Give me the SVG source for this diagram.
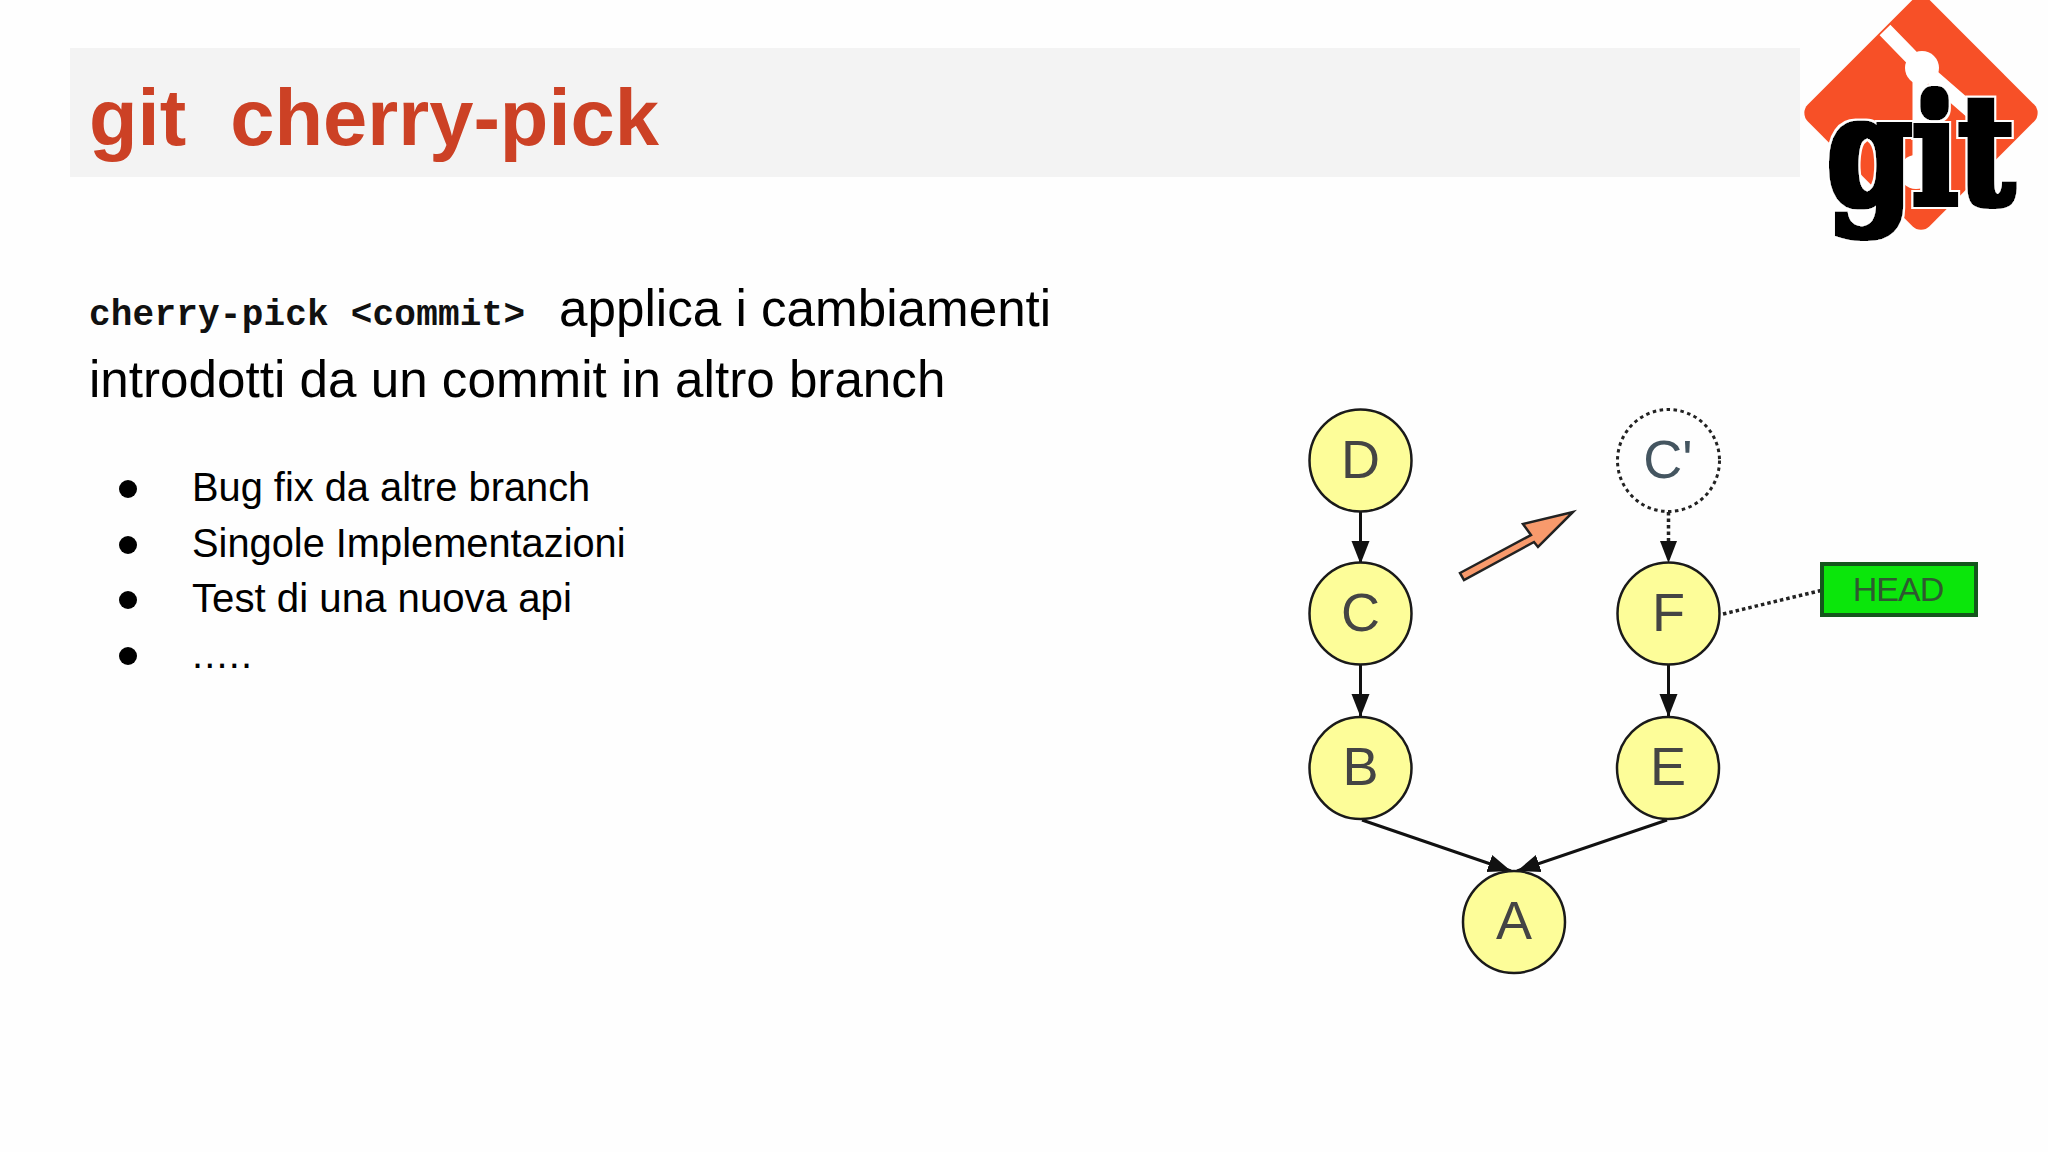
<svg xmlns="http://www.w3.org/2000/svg" width="2048" height="1152" viewBox="0 0 2048 1152">
<style>
.s{font-family:"Liberation Sans",Arial,sans-serif;fill:#000}
.n{fill:#fdfd99;stroke:#1a1a1a;stroke-width:2.5}
.l{font-family:"Liberation Sans",Arial,sans-serif;font-size:54px;fill:#444;text-anchor:middle}
.e{fill:none;stroke:#111;stroke-width:3}
.d{fill:none;stroke:#222;stroke-width:3.5;stroke-dasharray:3.5 3}
</style>
<defs>
<marker id="a" markerUnits="userSpaceOnUse" markerWidth="24" markerHeight="20" refX="23" refY="10" orient="auto"><path d="M0 1L23 10L0 19Z" fill="#111"/></marker>
<filter id="heavy" x="-10%" y="-10%" width="120%" height="120%">
<feMorphology in="SourceAlpha" operator="dilate" radius="5" result="o"/>
<feFlood flood-color="#fff"/><feComposite in2="o" operator="in" result="w"/>
<feMorphology in="SourceAlpha" operator="dilate" radius="2.500" result="b"/>
<feFlood flood-color="#000"/><feComposite in2="b" operator="in" result="k"/>
<feMerge><feMergeNode in="w"/><feMergeNode in="k"/></feMerge>
</filter>
</defs>
<rect width="2048" height="1152" fill="#fefefe"/>
<rect x="70" y="48" width="1730" height="129" fill="#f3f3f3"/>
<text x="89" y="144.500" style="font-family:'Liberation Sans',Arial,sans-serif;font-weight:700;font-size:79.500px;fill:#cc4125" xml:space="preserve">git  cherry-pick</text>
<g id="logo">
<rect x="1835" y="27" width="172" height="172" rx="12" transform="rotate(45 1921 113)" fill="#f75027"/>
<g stroke="#fff" stroke-width="15" fill="none"><path d="M1885 30L1922 68L1984 122"/><path d="M1920 72L1920 170"/></g>
<circle cx="1922" cy="68" r="17" fill="#fff"/>
<circle cx="1916" cy="172" r="17" fill="#fff"/>
<g filter="url(#heavy)"><text transform="translate(1827 204) scale(.8 1)" style="font-family:'DejaVu Serif',serif;font-weight:700;font-size:152px;fill:#000">git</text></g>
</g>
<text x="89" y="325" style="font-family:'Liberation Mono',monospace;font-weight:700;font-size:36px" fill="#111" textLength="436">cherry-pick &lt;commit&gt;</text>
<text class="s" x="559" y="326" font-size="51.200">applica i cambiamenti</text>
<text class="s" x="89" y="397" font-size="51.200">introdotti da un commit in altro branch</text>
<g id="bullets">
<circle cx="128" cy="489" r="9"/><text class="s" x="192" y="501" font-size="39.800">Bug fix da altre branch</text>
<circle cx="128" cy="545" r="9"/><text class="s" x="192" y="557" font-size="39.800">Singole Implementazioni</text>
<circle cx="128" cy="600" r="9"/><text class="s" x="192" y="612" font-size="40.200">Test di una nuova api</text>
<circle cx="128" cy="656" r="9"/><text class="s" x="192" y="668" font-size="39.800" letter-spacing="1.200">.....</text>
</g>
<g id="connectors">
<path class="e" marker-end="url(#a)" d="M1360.500 512V564"/>
<path class="e" marker-end="url(#a)" d="M1360.500 665V717"/>
<path class="e" marker-end="url(#a)" d="M1668.500 665V717"/>
<path class="e" marker-end="url(#a)" d="M1362 820L1511 871"/>
<path class="e" marker-end="url(#a)" d="M1667 820L1517 871"/>
<path class="d" d="M1668.500 512V542"/>
<path d="M1660 541L1668.500 563L1677 541Z" fill="#111"/>
<path class="d" d="M1723 614L1823 590"/>
<path id="pick-arrow" d="M1460 573L1531 535L1523 524L1573 512L1538 547L1534 542L1464 580Z" fill="#f89a6c" stroke="#222" stroke-width="2.500" stroke-linejoin="miter"/>
</g>
<g id="node-D"><circle class="n" cx="1360.500" cy="460.500" r="51"/><text class="l" x="1360.500" y="478">D</text></g>
<g id="node-Cp"><circle cx="1668.500" cy="460.500" r="51" fill="#fefefe" stroke="#222" stroke-width="3" stroke-dasharray="3.500 3.500"/><text class="l" x="1668" y="478" style="fill:#445560">C'</text></g>
<g id="node-C"><circle class="n" cx="1360.500" cy="613.500" r="51"/><text class="l" x="1360.500" y="631">C</text></g>
<g id="node-F"><circle class="n" cx="1668.500" cy="613.500" r="51"/><text class="l" x="1668.500" y="631">F</text></g>
<g id="node-B"><circle class="n" cx="1360.500" cy="768" r="51"/><text class="l" x="1360.500" y="785">B</text></g>
<g id="node-E"><circle class="n" cx="1668" cy="768" r="51"/><text class="l" x="1668" y="785">E</text></g>
<g id="node-A"><circle class="n" cx="1514" cy="922" r="51"/><text class="l" x="1514" y="939">A</text></g>
<g id="node-HEAD"><rect x="1822" y="564" width="154" height="51" fill="#0be60b" stroke="#14561c" stroke-width="4"/><text x="1898" y="601" text-anchor="middle" style="font-family:'Liberation Sans',Arial,sans-serif;font-size:34px;letter-spacing:-1px;fill:#2e5a30">HEAD</text></g>
</svg>
